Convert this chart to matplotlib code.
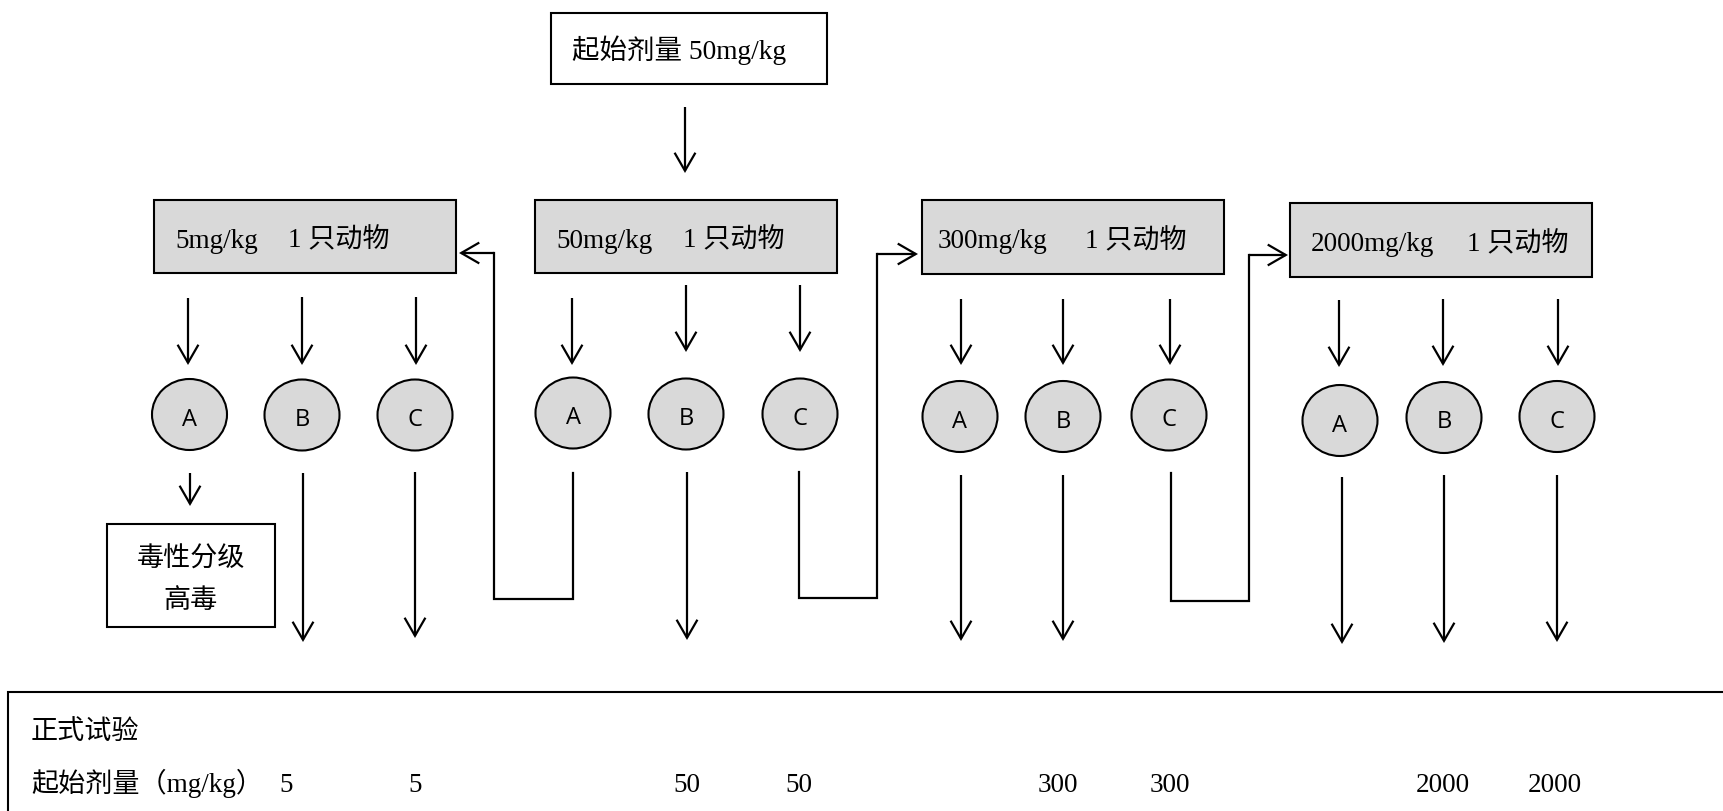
import matplotlib
matplotlib.use("Agg")
import matplotlib.pyplot as plt
from matplotlib.patches import Rectangle, Ellipse, FancyArrowPatch

# ---------------- data ----------------
start_label = "起始剂量 50mg/kg"
dose_levels = ["5mg/kg", "50mg/kg", "300mg/kg", "2000mg/kg"]
animal_label = "1 只动物"
outcomes = ["A", "B", "C"]
result_lines = ["毒性分级", "高毒"]
formal_title = "正式试验"
formal_row_label = "起始剂量（mg/kg）"
formal_doses = ["5", "5", "50", "50", "300", "300", "2000", "2000"]

# ---------------- layout (pixel coordinates) ----------------
W, H = 1723, 811
GRAY = "#d9d9d9"
SERIF = ["Liberation Serif", "Noto Sans CJK SC"]
SANS = ["Open Sans", "DejaVu Sans"]
FS = 19.5
LW = 1.6

box_rects = [(154, 200, 302, 73), (535, 200, 302, 73), (922, 200, 302, 74), (1290, 203, 302, 74)]
text_left = [175, 556, 938, 1311]
animal_left = [288, 683, 1085, 1467]
circle_centers = [
    [(189.5, 414.5), (302, 415), (415, 415)],
    [(573, 413), (686, 414), (800, 414)],
    [(960, 416.5), (1063, 416.5), (1169, 415)],
    [(1340, 420.5), (1444, 417.5), (1557, 416.5)],
]
top_arrows = [
    [(188, 298, 365), (302, 297, 365), (416, 297, 365)],
    [(572, 298, 365), (686, 285, 352), (800, 285, 352)],
    [(961, 299, 365), (1063, 299, 365), (1170, 299, 365)],
    [(1339, 300, 367), (1443, 299, 366), (1558, 299, 366)],
]
long_arrows = [(303, 473, 642), (415, 472, 638), (687, 472, 640),
               (961, 475, 641), (1063, 475, 641),
               (1342, 477, 644), (1444, 475, 643), (1557, 475, 642)]
formal_x = [286, 415, 687, 799, 1058, 1170, 1443, 1555]

fig = plt.figure(figsize=(W / 100, H / 100), dpi=100)
ax = fig.add_axes([0, 0, 1, 1])
ax.set_xlim(0, W)
ax.set_ylim(H, 0)
ax.axis("off")


def arrow(x0, y0, x1, y1):
    ax.add_patch(FancyArrowPatch((x0, y0), (x1, y1),
                                 arrowstyle="->,head_length=1.3,head_width=0.75",
                                 mutation_scale=10, lw=LW, color="black",
                                 shrinkA=0, shrinkB=0, joinstyle="miter",
                                 capstyle="butt"))


def line(xs, ys):
    ax.plot(xs, ys, color="black", lw=LW, solid_joinstyle="miter")


# top start box
ax.add_patch(Rectangle((551, 13), 276, 71, facecolor="white", edgecolor="black", lw=1.5))
ax.text(572, 50, start_label, fontsize=FS + 0.3, family=SERIF, ha="left", va="center")
arrow(685, 107, 685, 173)

# dose boxes, circles, arrows
for i, dose in enumerate(dose_levels):
    x, y, w, h = box_rects[i]
    ax.add_patch(Rectangle((x, y), w, h, facecolor=GRAY, edgecolor="black", lw=1.5))
    ax.text(text_left[i], y + h / 2 + 11, dose,
            fontsize=FS, family=SERIF, ha="left", va="baseline")
    ax.text(animal_left[i], y + h / 2 + 11, animal_label,
            fontsize=FS, family=SERIF, ha="left", va="baseline")
    for j, lab in enumerate(outcomes):
        cx, cy = circle_centers[i][j]
        ax.add_patch(Ellipse((cx, cy), 75, 71, facecolor=GRAY, edgecolor="black", lw=1.5))
        ax.text(cx, cy + 5, lab, fontsize=17, family=SANS, ha="center", va="center")
        ax_x, y0, y1 = top_arrows[i][j]
        arrow(ax_x, y0, ax_x, y1)

# long downward arrows
for (x, y0, y1) in long_arrows:
    arrow(x, y0, x, y1)

# A at 5mg -> classification box
arrow(190, 473, 190, 506)
ax.add_patch(Rectangle((107, 524), 168, 103, facecolor="white", edgecolor="black", lw=1.5))
ax.text(191, 560, result_lines[0], fontsize=FS, family=SERIF, ha="center", va="center")
ax.text(191, 602, result_lines[1], fontsize=FS, family=SERIF, ha="center", va="center")

# connectors
line([573, 573, 494, 494], [473, 599, 599, 253])
arrow(494, 253, 459, 253)
line([799, 799, 877, 877], [472, 598, 598, 254])
arrow(877, 254, 918, 254)
line([1171, 1171, 1249, 1249], [473, 601, 601, 255])
arrow(1249, 255, 1288, 255)

# bottom formal test panel (extends past the figure edges)
ax.add_patch(Rectangle((8, 692), 1760, 200, facecolor="white", edgecolor="black",
                       lw=1.5, clip_on=True))
ax.text(31, 732, formal_title, fontsize=FS, family=SERIF, ha="left", va="center")
ax.text(31, 783, formal_row_label, fontsize=FS, family=SERIF, ha="left", va="center")
for x, v in zip(formal_x, formal_doses):
    ax.text(x, 785, v, fontsize=FS, family=SERIF, ha="center", va="center")

fig.savefig("out.png", dpi=100)
